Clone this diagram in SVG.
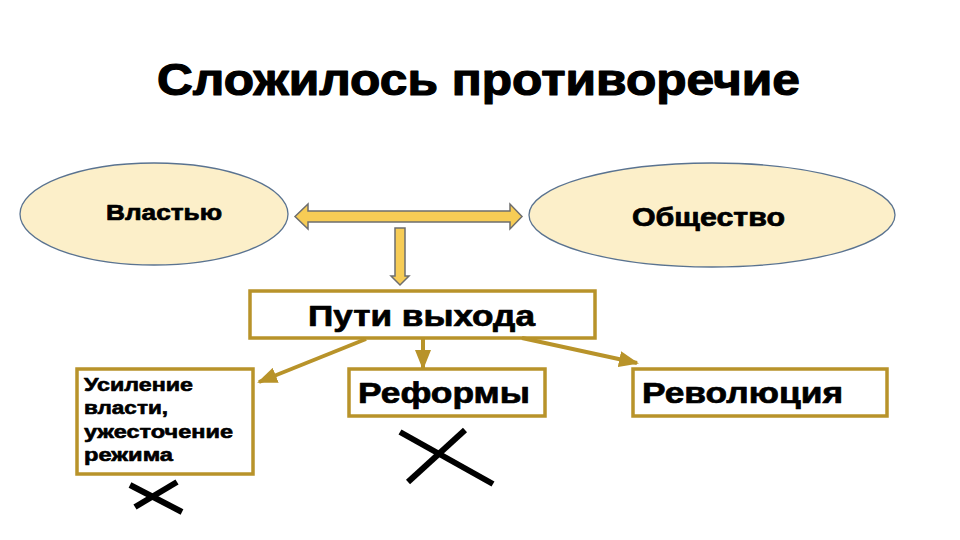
<svg xmlns="http://www.w3.org/2000/svg" width="960" height="540" viewBox="0 0 960 540">
<defs>
<style>
.t{font-family:"Liberation Sans",Arial,sans-serif;font-weight:bold;fill:#000;stroke:#000;stroke-width:0.7;stroke-linejoin:round}
.ell{fill:#FCEFC9;stroke:#5A7390;stroke-width:1.3}
.box{fill:#fff;stroke:#B8932A;stroke-width:3.5}
.blk{fill:#F7CC55;stroke:#6E6E6E;stroke-width:1.5;stroke-linejoin:miter}
.con{stroke:#B8932A;stroke-width:4;fill:none}
.x{stroke:#000;stroke-width:6;stroke-linecap:butt}
</style>
<marker id="ah" markerWidth="5" markerHeight="4" refX="4.5" refY="2" orient="auto" markerUnits="strokeWidth">
<path d="M0,0 L5,2 L0,4 z" fill="#B8932A"/>
</marker>
</defs>
<rect width="960" height="540" fill="#fff"/>
<text id="title" class="t" x="157" y="95" font-size="45" style="stroke-width:1.2" textLength="643" lengthAdjust="spacingAndGlyphs">Сложилось противоречие</text>

<g id="vlast">
<ellipse class="ell" cx="154" cy="214" rx="134" ry="51"/>
<text class="t" x="106" y="220" font-size="22" textLength="116" lengthAdjust="spacingAndGlyphs">Властью</text>
</g>
<g id="obshestvo">
<ellipse class="ell" cx="712" cy="215" rx="183" ry="52"/>
<text class="t" x="632" y="226" font-size="25" textLength="153" lengthAdjust="spacingAndGlyphs">Общество</text>
</g>

<g id="block-arrows">
<path class="blk" d="M295,216.5 L308,204 L308,211 L510,211 L510,204 L522,216.5 L510,229 L510,222 L308,222 L308,229 Z"/>
<path class="blk" d="M395,228 L405,228 L405,276 L409,276 L400,285 L391,276 L395,276 Z"/>
</g>

<g id="puti">
<rect class="box" x="250" y="291" width="345" height="47"/>
<text class="t" x="308" y="326" font-size="29" textLength="227" lengthAdjust="spacingAndGlyphs">Пути выхода</text>
</g>

<g id="usilenie">
<rect class="box" x="77" y="369" width="176" height="105"/>
<text class="t" font-size="18" style="stroke-width:0.6">
<tspan x="84" y="391" textLength="109" lengthAdjust="spacingAndGlyphs">Усиление</tspan>
<tspan x="84" y="414" textLength="84" lengthAdjust="spacingAndGlyphs">власти,</tspan>
<tspan x="84" y="438" textLength="149" lengthAdjust="spacingAndGlyphs">ужесточение</tspan>
<tspan x="84" y="461" textLength="89" lengthAdjust="spacingAndGlyphs">режима</tspan>
</text>
</g>

<g id="reformy">
<rect class="box" x="349" y="369" width="196" height="47"/>
<text class="t" x="358" y="403" font-size="30" textLength="172" lengthAdjust="spacingAndGlyphs">Реформы</text>
</g>

<g id="revolyuciya">
<rect class="box" x="633" y="369" width="254" height="47"/>
<text class="t" x="642" y="403" font-size="30" textLength="201" lengthAdjust="spacingAndGlyphs">Революция</text>
</g>

<g id="connectors">
<line class="con" x1="366" y1="339" x2="259" y2="382" marker-end="url(#ah)"/>
<line class="con" x1="423" y1="339" x2="423" y2="368" marker-end="url(#ah)"/>
<line class="con" x1="522" y1="338" x2="637" y2="363" marker-end="url(#ah)"/>
</g>

<g id="crosses">
<line class="x" x1="400" y1="432" x2="493" y2="484"/>
<line class="x" x1="465" y1="430" x2="408" y2="482"/>
<line class="x" x1="130" y1="485" x2="182" y2="512"/>
<line class="x" x1="177" y1="482" x2="135" y2="507"/>
</g>
</svg>
